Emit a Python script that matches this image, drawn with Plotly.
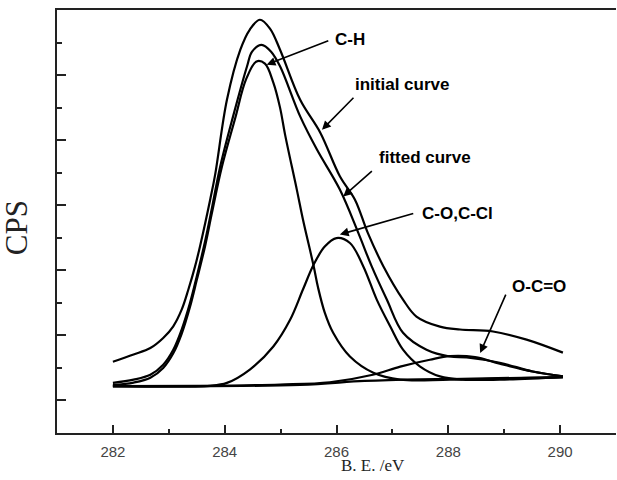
import plotly.graph_objects as go

# Binding energy (eV) and intensity (arbitrary CPS units)
init_x = [282.00, 282.37, 282.67, 282.90, 283.08, 283.23, 283.35, 283.47, 283.56, 283.74,
          283.83, 284.04, 284.28, 284.45, 284.63, 284.81, 284.99, 285.35, 285.71, 286.06,
          286.33, 286.56, 286.84, 287.19, 287.43, 287.85, 288.21, 288.80, 289.40, 290.05]
init_y = [1.19, 1.41, 1.61, 1.92, 2.28, 2.79, 3.41, 4.12, 4.75, 6.17,
          6.95, 9.24, 10.78, 11.40, 11.70, 11.43, 10.78, 9.24, 8.23, 6.89,
          6.17, 5.15, 4.12, 3.10, 2.58, 2.27, 2.18, 2.12, 1.87, 1.47]

fit_x = [282.00, 282.37, 282.67, 282.90, 283.08, 283.23, 283.38, 283.50, 283.65, 283.77,
         283.92, 284.15, 284.40, 284.49, 284.66, 284.83, 284.99, 285.35, 285.65, 286.06,
         286.39, 286.63, 286.90, 287.19, 287.61, 288.03, 288.33, 288.92, 289.51, 290.05]
fit_y = [0.54, 0.64, 0.79, 1.10, 1.56, 2.18, 3.00, 3.81, 4.90, 5.90,
         7.19, 8.73, 10.27, 10.72, 10.93, 10.72, 10.27, 8.73, 7.71, 6.48,
         5.15, 4.12, 3.10, 2.08, 1.56, 1.35, 1.32, 1.16, 0.89, 0.74]

ch_x = [282.00, 282.37, 282.67, 282.90, 283.08, 283.23, 283.38, 283.50, 283.65, 283.77,
        283.95, 284.19, 284.38, 284.57, 284.72, 284.87, 284.99, 285.08, 285.29, 285.40,
        285.59, 285.67, 285.79, 285.94, 286.24, 286.66, 287.14, 288.03, 290.05]
ch_y = [0.47, 0.55, 0.70, 1.00, 1.45, 2.05, 2.88, 3.70, 4.75, 5.75,
        7.18, 8.69, 9.86, 10.42, 10.35, 9.77, 9.00, 8.17, 6.48, 5.56,
        4.14, 3.47, 2.70, 2.08, 1.35, 0.85, 0.64, 0.64, 0.72]

co_x = [282.00, 283.74, 284.04, 284.45, 284.87, 285.17, 285.40, 285.59, 285.79, 286.00,
        286.24, 286.48, 286.72, 286.96, 287.19, 287.49, 287.85, 288.26, 288.92, 290.05]
co_y = [0.44, 0.45, 0.54, 0.95, 1.66, 2.48, 3.41, 4.17, 4.73, 4.99,
        4.84, 4.12, 3.10, 2.28, 1.56, 1.05, 0.74, 0.64, 0.64, 0.72]

occ_x = [282.00, 283.56, 284.99, 285.88, 286.65, 287.14, 287.67, 288.03, 288.48, 288.92,
         289.51, 290.05]
occ_y = [0.44, 0.45, 0.49, 0.56, 0.79, 1.04, 1.25, 1.36, 1.33, 1.13,
         0.89, 0.74]

base_x = [282.00, 285.35, 286.50, 287.50, 288.03, 290.05]
base_y = [0.43, 0.48, 0.60, 0.65, 0.66, 0.72]

x_ticks = [282, 284, 286, 288, 290]

series = [
    ("initial curve", init_x, init_y),
    ("fitted curve", fit_x, fit_y),
    ("C-H", ch_x, ch_y),
    ("C-O,C-Cl", co_x, co_y),
    ("O-C=O", occ_x, occ_y),
    ("background", base_x, base_y),
]

fig = go.Figure()
for name, xs, ys in series:
    fig.add_trace(go.Scatter(x=xs, y=ys, mode="lines", name=name,
                             line=dict(color="black", width=2.2, shape="spline", smoothing=1.0),
                             showlegend=False, hoverinfo="skip"))

lab_font = dict(family="Liberation Sans, Arial", size=17, color="black")
# (text, tip_x, tip_y, tail_x, tail_y, text_x, text_y)
labels = [
    ("<b>C-H</b>", 284.75, 10.32, 285.88, 11.07, 285.94, 11.09),
    ("<b>initial curve</b>", 285.74, 8.32, 286.33, 9.35, 286.29, 9.70),
    ("<b>fitted curve</b>", 286.12, 6.27, 286.66, 7.09, 286.72, 7.48),
    ("<b>C-O,C-Cl</b>", 286.06, 5.10, 287.40, 5.76, 287.49, 5.76),
    ("<b>O-C=O</b>", 288.57, 1.46, 289.04, 3.30, 289.10, 3.50),
]
for text, tx, ty, ax, ay, lx, ly in labels:
    fig.add_annotation(x=tx, y=ty, ax=ax, ay=ay, xref="x", yref="y", axref="x", ayref="y",
                       text="", showarrow=True, arrowhead=2, arrowsize=1.1, arrowwidth=1.6,
                       arrowcolor="black")
    fig.add_annotation(x=lx, y=ly, xref="x", yref="y", text=text, showarrow=False,
                       xanchor="left", yanchor="middle", font=lab_font)

fig.add_annotation(x=-0.071, y=0.485, xref="paper", yref="paper", text="CPS", showarrow=False,
                   textangle=-90, font=dict(family="Liberation Serif, Times New Roman", size=31, color="#222"),
                   xanchor="center", yanchor="middle")
fig.add_annotation(x=0.565, y=-0.078, xref="paper", yref="paper", text="B. E. /eV", showarrow=False,
                   font=dict(family="Liberation Serif, Times New Roman", size=17, color="#222"),
                   xanchor="center", yanchor="middle")

fig.update_layout(
    width=617, height=480,
    margin=dict(l=57, r=1, t=10, b=47),
    paper_bgcolor="white", plot_bgcolor="white",
    xaxis=dict(range=[281, 291], tickvals=x_ticks, ticks="inside", ticklen=8, tickwidth=2,
               tickcolor="#222", showline=True, linecolor="#222", linewidth=2, mirror=True,
               showgrid=False, zeroline=False, ticklabelstandoff=4,
               tickfont=dict(family="Liberation Sans, Arial", size=15, color="#444"),
               minor=dict(dtick=1, tick0=281, ticks="inside", ticklen=4, tickwidth=2, tickcolor="#222")),
    yaxis=dict(range=[-1, 12], dtick=2, tick0=0, ticks="inside", ticklen=9, tickwidth=2,
               tickcolor="#222", showline=True, linecolor="#222", linewidth=2, mirror=False,
               showgrid=False, zeroline=False, showticklabels=False,
               minor=dict(dtick=1, tick0=-1, ticks="inside", ticklen=5, tickwidth=2, tickcolor="#222")),
)

fig.write_html("out.html")
